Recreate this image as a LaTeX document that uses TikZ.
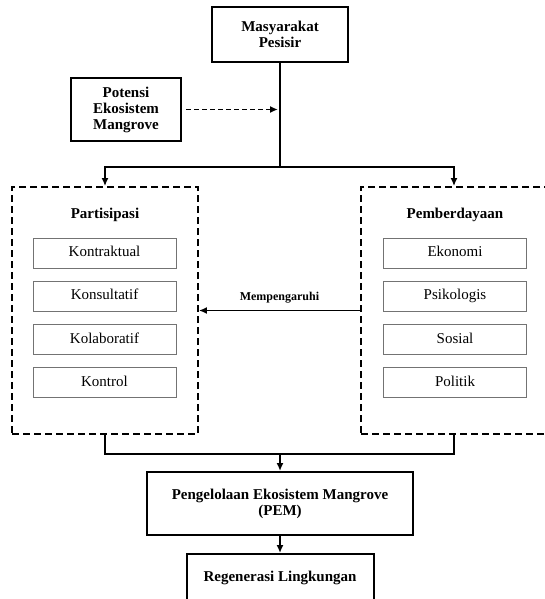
\documentclass[tikz,border=0pt]{standalone}
\usepackage{fontspec}
\setmainfont{Liberation Serif}
\usepackage{tikz}
\usetikzlibrary{shapes.geometric, arrows.meta}
\tikzstyle{mainbox} = [rectangle, draw=black, line width=2pt, align=center, font=\fontsize{15pt}{16pt}\selectfont\bfseries]
\tikzstyle{groupbox} = [rectangle, draw=black, dash pattern=on 7pt off 4pt, line width=1.8pt, minimum width=186pt, minimum height=247pt]
\tikzstyle{grouptitle} = [font=\fontsize{15pt}{16pt}\selectfont\bfseries]
\tikzstyle{itembox} = [rectangle, draw=black!55, line width=1pt, minimum width=143pt, minimum height=30pt, text height=10.5pt, text depth=3.5pt, text centered, font=\fontsize{15pt}{16pt}\selectfont]
\tikzstyle{line} = [line width=1.8pt]
\tikzstyle{arrow} = [line width=1.8pt,-{Latex[length=8pt,width=7pt]}]
\tikzstyle{dasharrow} = [line width=1.8pt,dash pattern=on 5pt off 3pt,-{Latex[length=8pt,width=7pt]}]

\begin{document}
\begin{tikzpicture}[x=1pt, y=-1pt, node distance=43.3pt]
	\useasboundingbox (0,0) rectangle (545,599);
	\clip (0,0) rectangle (545,599);

	\node(masyarakat) [mainbox, minimum width=136pt, minimum height=55pt] at (280,34.5) {Masyarakat\\Pesisir};
	\node(potensi) [mainbox, minimum width=110pt, minimum height=63pt] at (126,109.5) {Potensi\\Ekosistem\\Mangrove};

	\node(partisipasi) [groupbox] at (105,310.5) {};
	\node(judulpartisipasi) [grouptitle] at (105,215) {Partisipasi};
	\node(kontraktual) [itembox] at (104.5,253) {Kontraktual};
	\node(konsultatif) [itembox, below of=kontraktual] {Konsultatif};
	\node(kolaboratif) [itembox, below of=konsultatif] {Kolaboratif};
	\node(kontrol) [itembox, below of=kolaboratif] {Kontrol};

	\node(pemberdayaan) [groupbox] at (454,310.5) {};
	\node(judulpemberdayaan) [grouptitle] at (455,215) {Pemberdayaan};
	\node(ekonomi) [itembox] at (455,253) {Ekonomi};
	\node(psikologis) [itembox, below of=ekonomi] {Psikologis};
	\node(sosial) [itembox, below of=psikologis] {Sosial};
	\node(politik) [itembox, below of=sosial] {Politik};

	\node(pem) [mainbox, minimum width=266pt, minimum height=63pt] at (280,503.5) {Pengelolaan Ekosistem Mangrove\\(PEM)};
	\node(regenerasi) [mainbox, anchor=north, minimum width=187pt, text height=21pt, text depth=30pt, inner ysep=6pt] at (280,553) {Regenerasi Lingkungan};

	\coordinate(cabang) at (280,167);
	\coordinate(gabung) at (280,453);

	\draw[line] (masyarakat) -- (cabang);
	\draw[dasharrow, shorten <=4pt, shorten >=2pt] (potensi.east) -- (potensi.east -| masyarakat.south);
	\draw[arrow] (cabang) -| (partisipasi.north);
	\draw[arrow] (cabang) -| (pemberdayaan.north);
	\draw[arrow] (pemberdayaan.west) -- (partisipasi.east) node[midway, above=3pt, font=\fontsize{12pt}{13pt}\selectfont\bfseries] {Mempengaruhi};
	\draw[line] (partisipasi.south) -- ++(0,19) -| (pemberdayaan.south);
	\draw[arrow] (gabung) -- (pem);
	\draw[arrow] (pem) -- (regenerasi);
	\end{tikzpicture}
\end{document}
